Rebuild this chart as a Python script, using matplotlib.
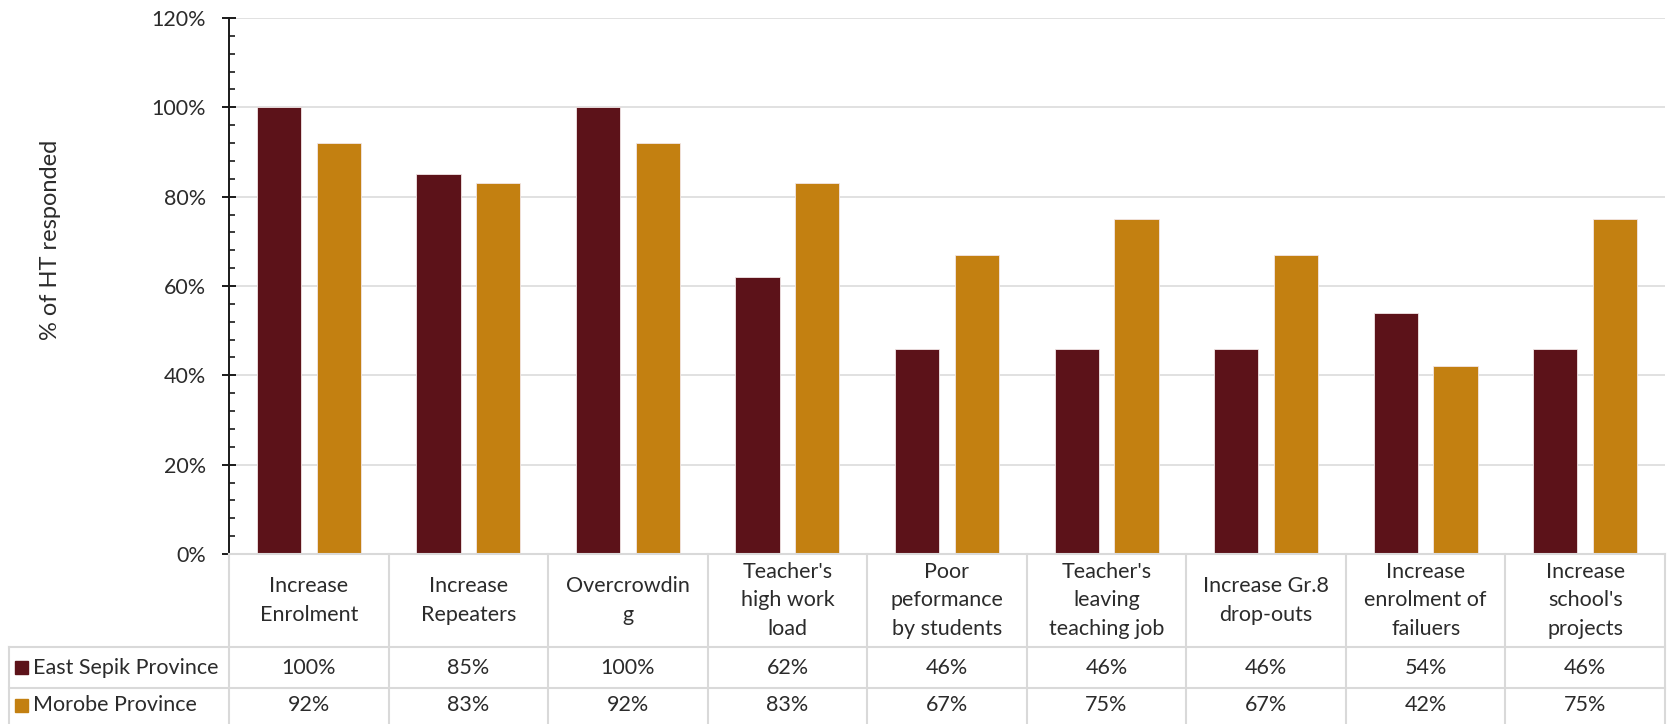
import matplotlib.pyplot as plt
import matplotlib.transforms as mtransforms
from matplotlib.patches import Rectangle
import numpy as np

plt.rcParams['font.family'] = ['Lato', 'DejaVu Sans']

categories = ["Increase\nEnrolment", "Increase\nRepeaters", "Overcrowdin\ng",
              "Teacher's\nhigh work\nload", "Poor\npeformance\nby students",
              "Teacher's\nleaving\nteaching job", "Increase Gr.8\ndrop-outs",
              "Increase\nenrolment of\nfailuers", "Increase\nschool's\nprojects"]
series_names = ["East Sepik Province", "Morobe Province"]
east_sepik = [100, 85, 100, 62, 46, 46, 46, 54, 46]
morobe = [92, 83, 92, 83, 67, 75, 67, 42, 75]

colors = ["#5C1219", "#C38011"]
text_color = "#2B2B2B"
grid_color = "#D9D9D9"
fs = 15.5

W, H = 1668, 724
fig = plt.figure(figsize=(W / 100, H / 100), dpi=100)

# plot area in pixels
x0, x1 = 229, 1665
y_top, y_zero = 18, 554
ax = fig.add_axes([x0 / W, (H - y_zero) / H, (x1 - x0) / W, (y_zero - y_top) / H])

n = len(categories)
x = np.arange(n)
bw = 0.277
gap = 0.098
for i, (vals, c) in enumerate(zip([east_sepik, morobe], colors)):
    off = (i - 0.5) * (bw + gap)
    ax.bar(x + off, np.array(vals) / 100, bw, color=c, edgecolor='#F2E6E6', linewidth=0.6, zorder=3)

ax.set_xlim(-0.5, n - 0.5)
ax.set_ylim(0, 1.2)
ax.set_yticks(np.arange(0, 1.21, 0.2))
ax.set_yticklabels([f"{int(round(v * 100))}%" for v in np.arange(0, 1.21, 0.2)])
ax.set_yticks(np.arange(0, 1.201, 0.04), minor=True)
ax.yaxis.grid(True, which='major', color=grid_color, linewidth=1.1, zorder=0)
ax.set_xticks([])
for s in ['top', 'right', 'bottom']:
    ax.spines[s].set_visible(False)
ax.spines['left'].set_color('#1A1A1A')
ax.spines['left'].set_linewidth(1.4)
ax.tick_params(axis='y', which='major', direction='inout', length=9.5, width=1.4,
               color='#1A1A1A', labelsize=fs, labelcolor=text_color, pad=12)
ax.tick_params(axis='y', which='minor', direction='in', length=4.5, width=1.2, color='#1A1A1A')

fig.text(51 / W, 1 - 240 / H, "% of HT responded", rotation=90, ha='center', va='center',
         fontsize=17, color=text_color)

# data table below the plot
tr = mtransforms.blended_transform_factory(ax.transData, fig.transFigure)
px = lambda v: 1 - v / H  # pixel row from top -> figure fraction
hdr_bot, row1_bot, tab_left = 647, 688, 8.5

line_kw = dict(color=grid_color, linewidth=1.5, clip_on=False)
for b in np.arange(-0.5, n, 1.0):
    fig.add_artist(plt.Line2D([b, b], [px(y_zero), 0], transform=tr, **line_kw))
fig.add_artist(plt.Line2D([-0.5, n - 0.5], [px(y_zero), px(y_zero)], transform=tr, **line_kw))
for yy in [hdr_bot, row1_bot]:
    fig.add_artist(plt.Line2D([tab_left / W, x1 / W], [px(yy), px(yy)],
                              transform=fig.transFigure, **line_kw))
fig.add_artist(plt.Line2D([tab_left / W, tab_left / W], [px(hdr_bot), 0],
                          transform=fig.transFigure, **line_kw))

for i, lab in enumerate(categories):
    fig.text(x[i], px((y_zero + hdr_bot) / 2), lab, transform=tr, ha='center', va='center',
             fontsize=fs, color=text_color, linespacing=1.55)

row_centers = [(hdr_bot + row1_bot) / 2, (row1_bot + H) / 2 - 1]
for vals, rc, name, c in zip([east_sepik, morobe], row_centers, series_names, colors):
    for i, v in enumerate(vals):
        fig.text(x[i], px(rc), f"{v}%", transform=tr, ha='center', va='center',
                 fontsize=fs, color=text_color)
    fig.add_artist(Rectangle((15 / W, px(rc + 6.5)), 13 / W, 13 / H, color=c,
                             transform=fig.transFigure))
    fig.text(33 / W, px(rc), name, ha='left', va='center', fontsize=fs, color=text_color)

fig.savefig("out.png", dpi=100)
